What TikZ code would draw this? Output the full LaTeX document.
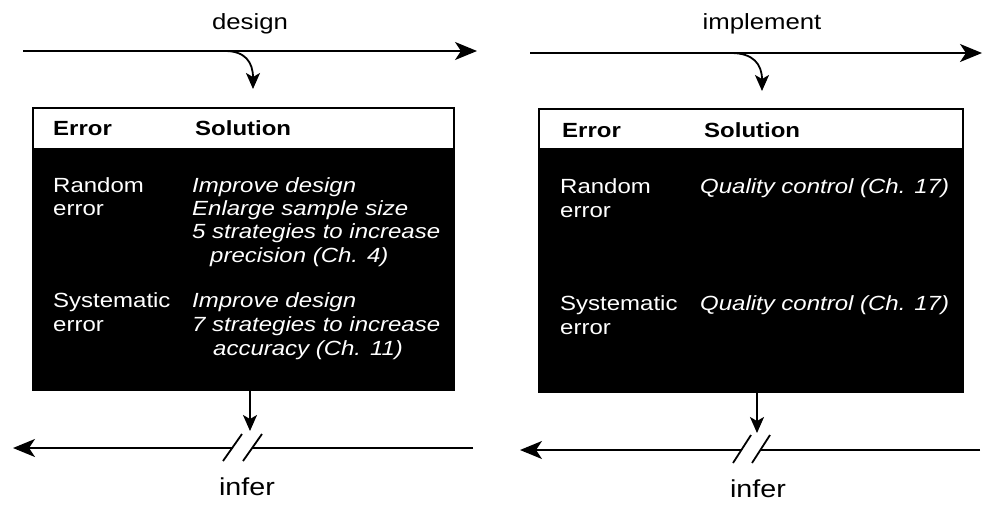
\documentclass[tikz,border=0pt]{standalone}
\usepackage{fontspec}
\setmainfont[FakeStretch=1.17]{Liberation Sans}
\usetikzlibrary{arrows.meta}
\newcommand\mybody{\fontsize{20.5}{23.5}\selectfont}
\newcommand\myhdr{\fontsize{20.5}{23.5}\selectfont\bfseries}
\newcommand\mycap{\fontsize{22}{26}\selectfont}
\newcommand\myinfer{\fontsize{24.5}{28}\selectfont}
\tikzset{
  ln/.style={line width=1.8pt},
  bigtip/.style={-{Stealth[length=22pt,width=18pt,inset=6pt]}},
  smalltip/.style={-{Stealth[length=16pt,width=14pt,inset=4pt]}},
  headbox/.style={draw, line width=1.5pt, fill=white, anchor=north west, inner sep=0, minimum height=41pt},
  bodybox/.style={draw, line width=1.5pt, fill=black, anchor=north west, inner sep=0},
  hdr/.style={anchor=base west, inner sep=0, font=\myhdr},
  lbl/.style={anchor=base west, inner sep=0, font=\mybody, text=white},
  sol/.style={anchor=base west, inner sep=0, font=\mybody\itshape, text=white},
  toplabel/.style={anchor=base, inner sep=0, font=\mycap},
  inflabel/.style={anchor=base, inner sep=0, font=\myinfer},
}
\begin{document}
\begin{tikzpicture}[x=1pt,y=-1pt]
\useasboundingbox (0,0) rectangle (987,504);

% ---------------- left panel ----------------
\node[toplabel] (design) at (250,29) {design};
\coordinate (t1s) at (23,51);
\coordinate (t1e) at (477,51);
\draw[ln,bigtip] (t1s) -- (t1e);
\coordinate (c1s) at (225,51);
\coordinate (c1e) at (253,89);
\draw[ln,smalltip] (c1s) .. controls (245,51) and (253,62) .. (c1e);

\node[bodybox, minimum width=421pt, minimum height=241pt] (body1) at (32,148) {};
\node[headbox, minimum width=421pt] (head1) at (32,107) {};
\node[hdr] (h1a) at (53,135) {Error};
\node[hdr] (h1b) at (195,135) {Solution};

\node[lbl] (l1a) at (53,192) {Random};
\node[lbl] (l1b) at (53,215) {error};
\node[sol] (s1a) at (192,192) {Improve design};
\node[sol] (s1b) at (192,215) {Enlarge sample size};
\node[sol] (s1c) at (192,238) {5 strategies to increase};
\node[sol] (s1d) at (210,262) {precision (Ch. 4)};

\node[lbl] (l1c) at (53,307) {Systematic};
\node[lbl] (l1d) at (53,331) {error};
\node[sol] (s1e) at (192,307) {Improve design};
\node[sol] (s1f) at (192,331) {7 strategies to increase};
\node[sol] (s1g) at (213,355) {accuracy (Ch. 11)};

\coordinate (d1) at (250,431);
\draw[ln,smalltip] (d1 |- body1.south) -- (d1);

\coordinate (b1r) at (473,448);
\coordinate (b1m) at (252,448);
\coordinate (b1n) at (233,448);
\coordinate (b1l) at (13,448);
\draw[ln] (b1r) -- (b1m);
\draw[ln,bigtip] (b1n) -- (b1l);
\coordinate (k1a) at (223,461); \coordinate (k1b) at (242,434);
\coordinate (k1c) at (243,461); \coordinate (k1d) at (262,434);
\draw[ln] (k1a) -- (k1b);
\draw[ln] (k1c) -- (k1d);
\node[inflabel] (infer1) at (247,495) {infer};

% ---------------- right panel ----------------
\node[toplabel] (implement) at (762,29) {implement};
\coordinate (t2s) at (530,53);
\coordinate (t2e) at (982,53);
\draw[ln,bigtip] (t2s) -- (t2e);
\coordinate (c2s) at (731,53);
\coordinate (c2e) at (762,91);
\draw[ln,smalltip] (c2s) .. controls (753,53) and (762,64) .. (c2e);

\node[bodybox, minimum width=424pt, minimum height=243pt] (body2) at (538,148) {};
\node[headbox, minimum width=424pt, minimum height=40pt] (head2) at (538,108) {};
\node[hdr] (h2a) at (562,137) {Error};
\node[hdr] (h2b) at (704,137) {Solution};

\node[lbl] (l2a) at (560,193) {Random};
\node[lbl] (l2b) at (560,217) {error};
\node[sol] (s2a) at (700,193) {Quality control (Ch. 17)};

\node[lbl] (l2c) at (560,310) {Systematic};
\node[lbl] (l2d) at (560,334) {error};
\node[sol] (s2b) at (700,310) {Quality control (Ch. 17)};

\coordinate (d2) at (757,433);
\draw[ln,smalltip] (d2 |- body2.south) -- (d2);

\coordinate (b2r) at (980,450);
\coordinate (b2m) at (760,450);
\coordinate (b2n) at (742,450);
\coordinate (b2l) at (520,450);
\draw[ln] (b2r) -- (b2m);
\draw[ln,bigtip] (b2n) -- (b2l);
\coordinate (k2a) at (733,463); \coordinate (k2b) at (751,435);
\coordinate (k2c) at (752,463); \coordinate (k2d) at (770,435);
\draw[ln] (k2a) -- (k2b);
\draw[ln] (k2c) -- (k2d);
\node[inflabel] (infer2) at (758,497) {infer};
\end{tikzpicture}
\end{document}
